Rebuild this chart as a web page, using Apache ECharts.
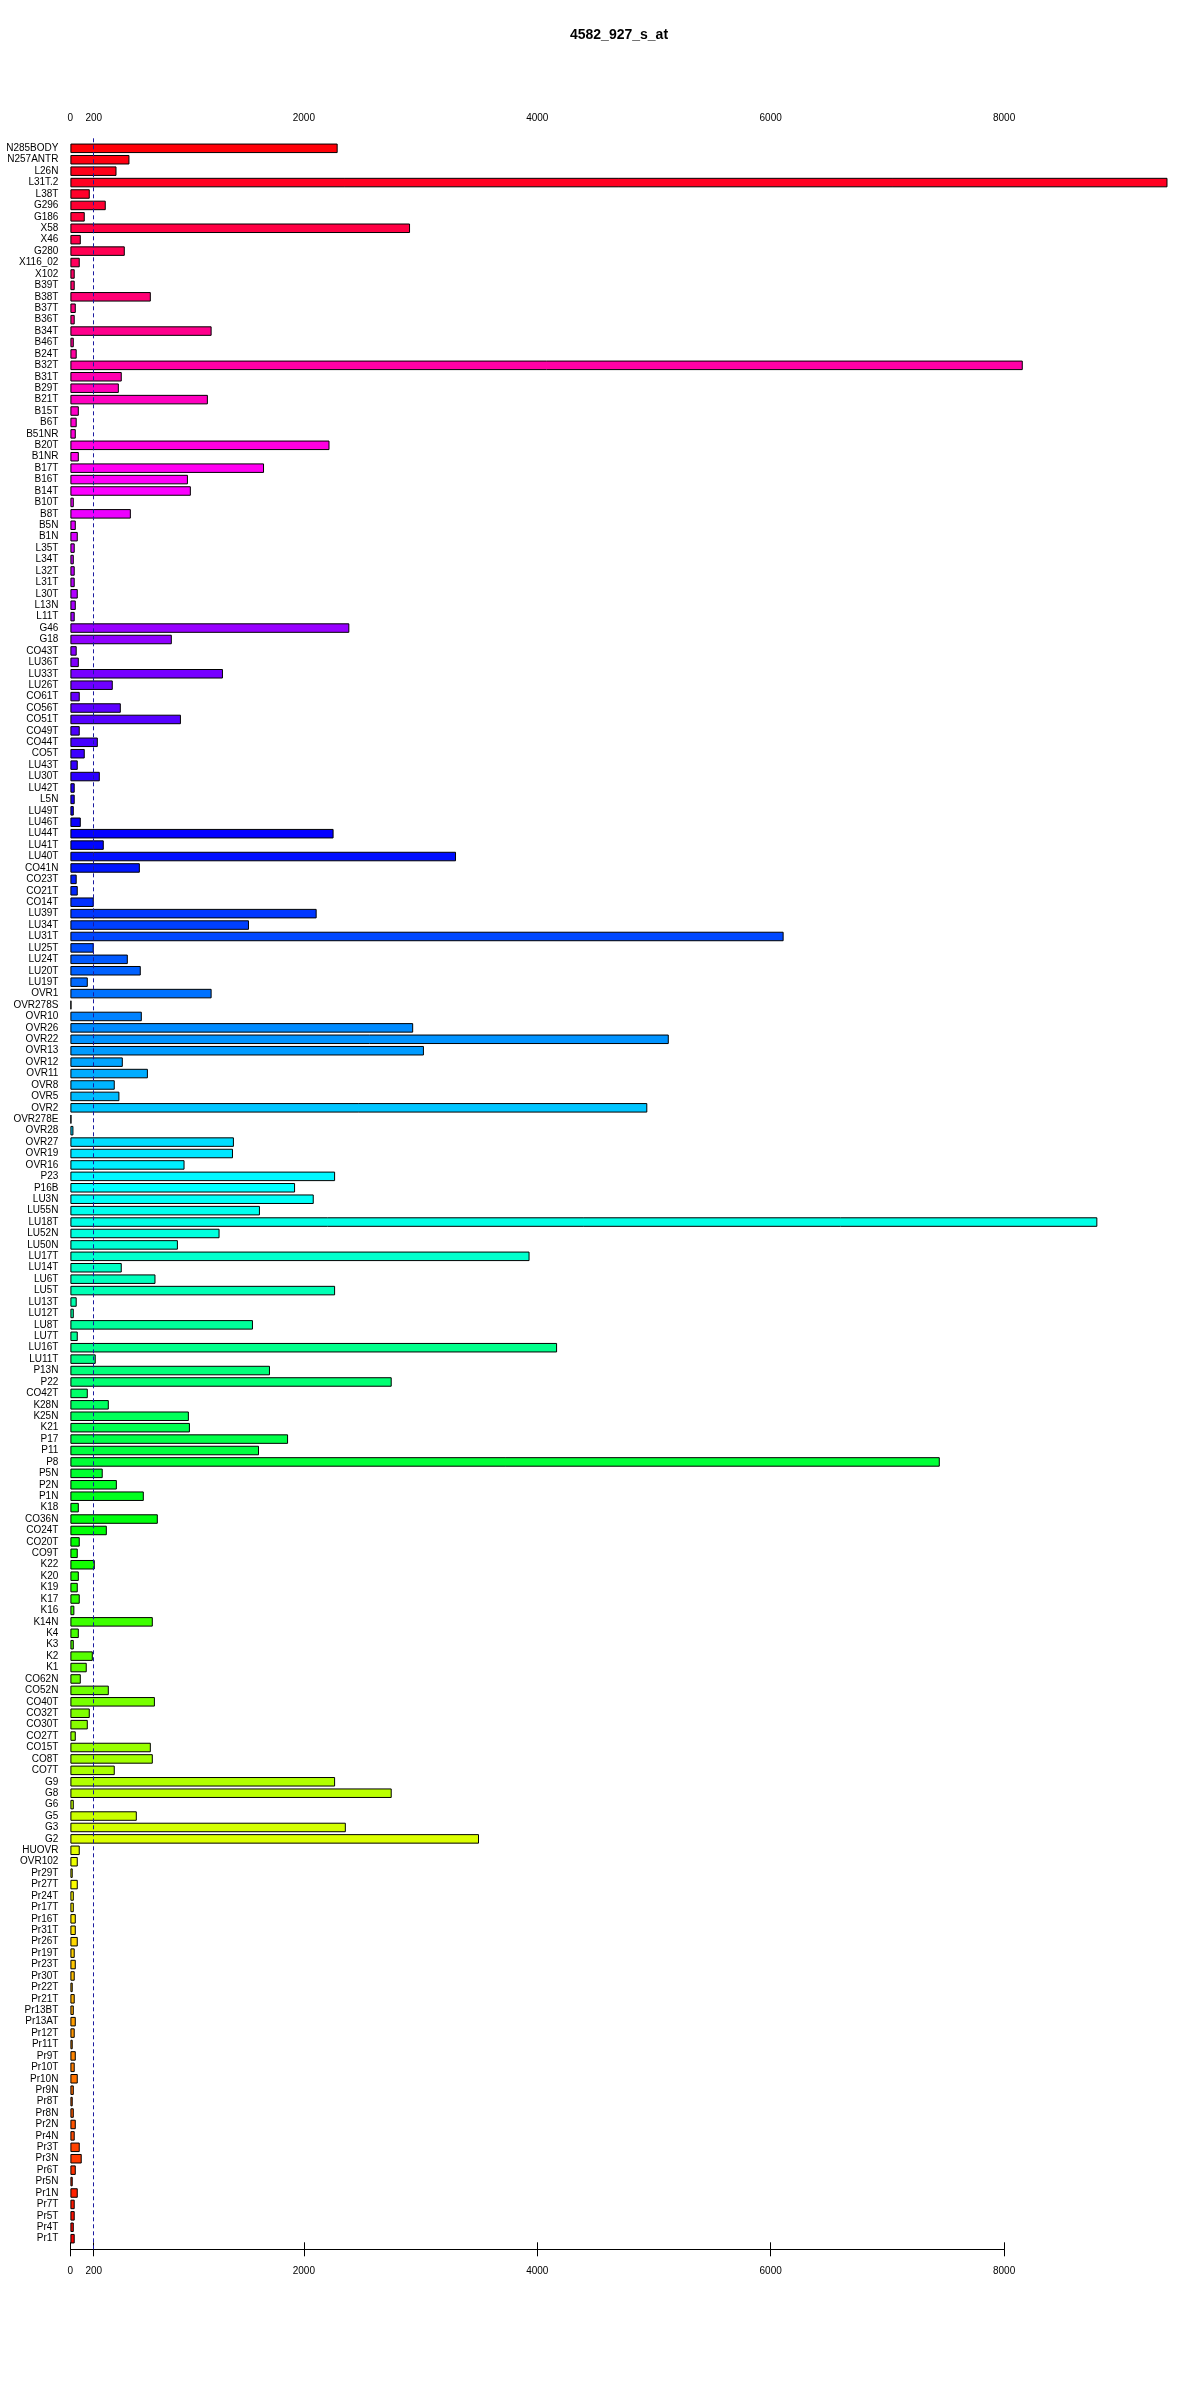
<!DOCTYPE html>
<html>
<head>
<meta charset="utf-8">
<script src="https://cdn.jsdelivr.net/npm/echarts@6/dist/echarts.min.js"></script>
<style>
html,body{margin:0;padding:0;background:#fff;}
#chart{width:1200px;height:2400px;}
</style>
</head>
<body>
<div id="chart"></div>
<script>
const chartTitle = '4582_927_s_at';
const categories = [
'N285BODY','N257ANTR','L26N','L31T.2','L38T','G296','G186','X58','X46','G280',
'X116_02','X102','B39T','B38T','B37T','B36T','B34T','B46T','B24T','B32T',
'B31T','B29T','B21T','B15T','B6T','B51NR','B20T','B1NR','B17T','B16T',
'B14T','B10T','B8T','B5N','B1N','L35T','L34T','L32T','L31T','L30T',
'L13N','L11T','G46','G18','CO43T','LU36T','LU33T','LU26T','CO61T','CO56T',
'CO51T','CO49T','CO44T','CO5T','LU43T','LU30T','LU42T','L5N','LU49T','LU46T',
'LU44T','LU41T','LU40T','CO41N','CO23T','CO21T','CO14T','LU39T','LU34T','LU31T',
'LU25T','LU24T','LU20T','LU19T','OVR1','OVR278S','OVR10','OVR26','OVR22','OVR13',
'OVR12','OVR11','OVR8','OVR5','OVR2','OVR278E','OVR28','OVR27','OVR19','OVR16',
'P23','P16B','LU3N','LU55N','LU18T','LU52N','LU50N','LU17T','LU14T','LU6T',
'LU5T','LU13T','LU12T','LU8T','LU7T','LU16T','LU11T','P13N','P22','CO42T',
'K28N','K25N','K21','P17','P11','P8','P5N','P2N','P1N','K18',
'CO36N','CO24T','CO20T','CO9T','K22','K20','K19','K17','K16','K14N',
'K4','K3','K2','K1','CO62N','CO52N','CO40T','CO32T','CO30T','CO27T',
'CO15T','CO8T','CO7T','G9','G8','G6','G5','G3','G2','HUOVR',
'OVR102','Pr29T','Pr27T','Pr24T','Pr17T','Pr16T','Pr31T','Pr26T','Pr19T','Pr23T',
'Pr30T','Pr22T','Pr21T','Pr13BT','Pr13AT','Pr12T','Pr11T','Pr9T','Pr10T','Pr10N',
'Pr9N','Pr8T','Pr8N','Pr2N','Pr4N','Pr3T','Pr3N','Pr6T','Pr5N','Pr1N',
'Pr7T','Pr5T','Pr4T','Pr1T'
];
const values = [
2290,506,395,9400,166,303,123,2910,89,466,
80,37,37,689,46,37,1210,29,54,8160,
440,415,1178,72,54,46,2220,72,1659,1007,
1032,29,518,46,63,37,29,37,37,63,
46,37,2390,869,54,72,1307,363,80,432,
947,80,235,123,63,252,37,37,29,89,
2255,286,3304,595,54,63,200,2110,1530,6111,
200,492,603,149,1210,9,612,2937,5127,3029,
449,664,380,420,4943,9,26,1401,1393,978,
2268,1925,2085,1624,8799,1278,921,3934,440,729,
2268,54,29,1564,63,4170,217,1710,2753,149,
329,1015,1024,1865,1616,7449,277,398,629,72,
749,312,80,63,209,72,63,80,34,706,
72,29,192,140,89,329,724,166,149,46,
689,706,380,2268,2753,29,569,2360,3501,80,
63,20,63,29,29,46,46,63,37,46,
37,20,37,29,46,37,20,46,37,63,
29,20,29,46,37,80,97,46,20,63,
37,37,29,37
];
const xTickValues = [0, 200, 2000, 4000, 6000, 8000];
const referenceLine = 200;

// R-style rainbow colours: first bar (bottom) hue 0, increasing upward
function hsvHex(h) {
  const c = 1, x = 1 - Math.abs((h / 60) % 2 - 1);
  let r, g, b;
  if (h < 60) { r = c; g = x; b = 0; }
  else if (h < 120) { r = x; g = c; b = 0; }
  else if (h < 180) { r = 0; g = c; b = x; }
  else if (h < 240) { r = 0; g = x; b = c; }
  else if (h < 300) { r = x; g = 0; b = c; }
  else { r = c; g = 0; b = x; }
  const t = v => Math.round(v * 255).toString(16).padStart(2, '0');
  return '#' + t(r) + t(g) + t(b);
}
const n = categories.length;
const barData = values.map((v, k) => ({
  value: v,
  itemStyle: { color: hsvHex(360 * (n - 1 - k) / n) }
}));

const FONT = 'Arial, "Liberation Sans", sans-serif';
const pxPerUnit = 933.7 / 8000;
const plotLeft = 70.4;
const barMax = 9600;

const chart = echarts.init(document.getElementById('chart'), null, { renderer: 'canvas' });
chart.setOption({
  backgroundColor: '#ffffff',
  animation: false,
  title: {
    text: chartTitle,
    left: 614,
    top: 23,
    textAlign: 'center',
    textStyle: { fontFamily: FONT, fontSize: 14, fontWeight: 'bold', color: '#000' }
  },
  grid: [
    { left: plotLeft, top: 142.6, width: barMax * pxPerUnit, height: 2101.8, containLabel: false },
    { left: plotLeft, top: 136, width: 8000 * pxPerUnit, height: 2113.3, containLabel: false }
  ],
  xAxis: [
    { gridIndex: 0, type: 'value', min: 0, max: barMax, show: false },
    { gridIndex: 1, type: 'value', min: 0, max: 8000, interval: 200, position: 'top',
      axisLine: { show: true, lineStyle: { color: '#000', width: 1 } },
      axisTick: { show: true, length: 7, customValues: xTickValues, lineStyle: { color: '#000' } },
      axisLabel: { customValues: xTickValues, formatter: v => String(v), margin: 13, fontFamily: FONT, fontSize: 10, color: '#000' },
      splitLine: { show: false } },
    { gridIndex: 1, type: 'value', min: 0, max: 8000, interval: 200, position: 'bottom',
      axisLine: { show: true, lineStyle: { color: '#000', width: 1 } },
      axisTick: { show: true, length: 7, customValues: xTickValues, lineStyle: { color: '#000' } },
      axisLabel: { customValues: xTickValues, formatter: v => String(v), margin: 17, fontFamily: FONT, fontSize: 10, color: '#000' },
      splitLine: { show: false } }
  ],
  yAxis: [
    { gridIndex: 0, type: 'category', data: categories, inverse: true,
      axisLine: { show: false }, axisTick: { show: false },
      axisLabel: { interval: 0, margin: 12, fontFamily: FONT, fontSize: 10, color: '#000' } },
    { gridIndex: 1, type: 'value', min: 0, max: 1, show: false }
  ],
  series: [
    { type: 'bar', xAxisIndex: 0, yAxisIndex: 0, data: barData,
      barCategoryGap: '16.7%',
      itemStyle: { borderColor: '#000', borderWidth: 1 } },
    { type: 'line', xAxisIndex: 1, yAxisIndex: 1, data: [],
      markLine: {
        silent: true, symbol: 'none', animation: false,
        label: { show: false },
        lineStyle: { type: [4, 3], color: '#1a1aa0', width: 1 },
        data: [{ xAxis: referenceLine }]
      } }
  ]
});
</script>
</body>
</html>
